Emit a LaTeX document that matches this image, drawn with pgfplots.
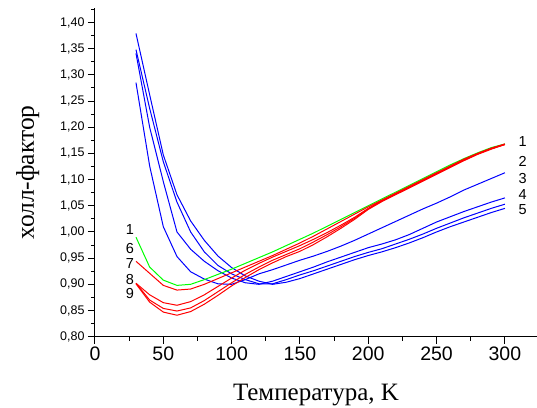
\documentclass[border=0pt]{standalone}
\usepackage{fontspec}
\setmainfont{Liberation Serif}
\newfontfamily\arial{Liberation Sans}
\usepackage{pgfplots}
\pgfplotsset{compat=1.18}
\definecolor{cblue}{RGB}{0,0,255}
\definecolor{cred}{RGB}{255,0,0}
\definecolor{cgreen}{RGB}{0,255,0}

\pgfplotstableread{
T a b c d
30 1.285 1.341 1.348 1.379
40 1.126 1.200 1.236 1.262
50 1.010 1.096 1.134 1.147
60 0.953 1.000 1.057 1.071
70 0.924 0.967 1.000 1.021
80 0.910 0.944 0.962 0.984
90 0.901 0.926 0.936 0.954
100 0.900 0.912 0.920 0.932
110 0.909 0.903 0.909 0.916
120 0.920 0.900 0.901 0.906
130 0.928 0.906 0.901 0.900
140 0.937 0.915 0.909 0.904
150 0.946 0.924 0.918 0.911
160 0.954 0.933 0.926 0.920
170 0.963 0.943 0.935 0.929
180 0.973 0.952 0.944 0.938
190 0.984 0.961 0.953 0.947
200 0.996 0.970 0.961 0.955
210 1.008 0.977 0.968 0.962
220 1.020 0.985 0.977 0.970
230 1.032 0.995 0.986 0.979
240 1.044 1.007 0.996 0.989
250 1.055 1.019 1.007 1.000
260 1.067 1.029 1.017 1.010
270 1.080 1.039 1.027 1.019
280 1.091 1.048 1.036 1.028
290 1.102 1.057 1.045 1.037
300 1.113 1.065 1.053 1.045
}\bluedata

\pgfplotstableread{
T g r6 r7 r8 r9
30 0.990 0.944 0.902 0.902 0.901
40 0.933 0.921 0.880 0.870 0.866
50 0.908 0.898 0.865 0.854 0.847
60 0.898 0.889 0.860 0.849 0.841
70 0.900 0.891 0.867 0.855 0.848
80 0.909 0.900 0.880 0.869 0.862
90 0.919 0.911 0.896 0.886 0.879
100 0.929 0.922 0.912 0.903 0.897
110 0.940 0.933 0.927 0.919 0.913
120 0.951 0.944 0.940 0.933 0.928
130 0.962 0.955 0.952 0.946 0.941
140 0.974 0.967 0.963 0.957 0.953
150 0.986 0.979 0.974 0.968 0.963
160 0.998 0.992 0.986 0.981 0.976
170 1.011 1.006 0.999 0.995 0.991
180 1.024 1.020 1.013 1.010 1.007
190 1.037 1.034 1.028 1.026 1.024
200 1.050 1.048 1.045 1.044 1.043
210 1.063 1.061 1.060 1.059 1.058
220 1.076 1.074 1.073 1.072 1.071
230 1.089 1.087 1.086 1.085 1.084
240 1.102 1.100 1.099 1.098 1.097
250 1.115 1.113 1.112 1.111 1.110
260 1.128 1.126 1.125 1.124 1.123
270 1.140 1.139 1.138 1.137 1.136
280 1.151 1.150 1.149 1.149 1.148
290 1.161 1.160 1.159 1.159 1.158
300 1.168 1.168 1.167 1.167 1.167
}\rgdata

\begin{document}
\begin{tikzpicture}
\begin{axis}[
 at={(0,0)},anchor=south west,
 scale only axis,width=442pt,height=328.4pt,
 xmin=0,xmax=323.5,ymin=0.8,ymax=1.427,
 axis lines*=left,axis line style={line width=1pt},
 tick align=outside,
 major tick length=7pt,minor tick length=4pt,
 every tick/.style={black,line width=1pt},
 xtick={0,50,...,300},minor xtick={25,75,...,300},
 ytick={0.80,0.85,...,1.41},minor ytick={0.825,0.875,...,1.41},
 /pgf/number format/assume math mode=true,
 yticklabel style={font=\arial\fontsize{12.5}{14}\selectfont,
  /pgf/number format/.cd,fixed,fixed zerofill,precision=2,use comma},
 xticklabel style={font=\arial\fontsize{19.5}{22}\selectfont},
 xlabel={Температура, K},ylabel={холл-фактор},
 xlabel style={font=\fontsize{25}{29}\selectfont,at={(axis description cs:0.5,-0.194)},anchor=base},
 ylabel style={font=\fontsize{25.5}{29}\selectfont,at={(axis description cs:-0.152,0.5)},anchor=center,rotate=0},
 clip=false,
 every axis plot/.append style={line width=1pt},
]
\addplot[cblue] table[x=T,y=a]{\bluedata};
\addplot[cblue] table[x=T,y=b]{\bluedata};
\addplot[cblue] table[x=T,y=c]{\bluedata};
\addplot[cblue] table[x=T,y=d]{\bluedata};
\addplot[cgreen] table[x=T,y=g]{\rgdata};
\addplot[cred] table[x=T,y=r6]{\rgdata};
\addplot[cred] table[x=T,y=r7]{\rgdata};
\addplot[cred] table[x=T,y=r8]{\rgdata};
\addplot[cred] table[x=T,y=r9]{\rgdata};
\begin{scope}[font=\arial\fontsize{14.5}{16}\selectfont,every node/.style={inner sep=0pt}]
\node at (axis cs:25.6,1.004) {1};
\node at (axis cs:25.6,0.969) {6};
\node at (axis cs:25.6,0.939) {7};
\node at (axis cs:25.6,0.910) {8};
\node at (axis cs:25.6,0.882) {9};
\node at (axis cs:313,1.172) {1};
\node at (axis cs:313,1.134) {2};
\node at (axis cs:313,1.102) {3};
\node at (axis cs:313,1.072) {4};
\node at (axis cs:313,1.043) {5};
\end{scope}
\end{axis}
\pgfresetboundingbox
\path[use as bounding box] (-95pt,-70.3pt) rectangle (442pt,336.7pt);
\end{tikzpicture}
\end{document}
